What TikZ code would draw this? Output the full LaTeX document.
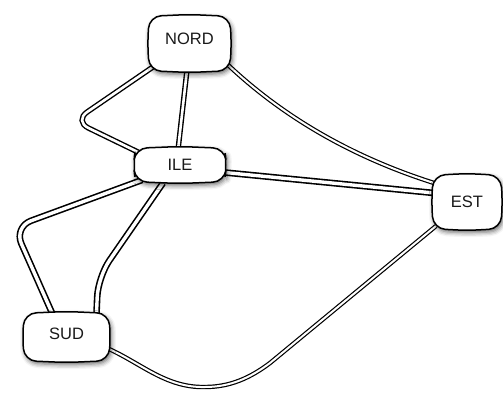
\documentclass[tikz,border=0pt]{standalone}
\usepackage{fontspec}
\setmainfont{Liberation Sans}
\usetikzlibrary{calc,shadows.blur}
\pgfdeclarelayer{edges}
\pgfdeclarelayer{boxes}
\pgfsetlayers{edges,boxes,main}
\tikzset{
  island/.style={inner sep=0pt, draw=none},
  islandtext/.style={inner sep=0pt, text=black!90, font=\fontsize{16.5}{18}\selectfont},
  boxline/.style={draw=black, line width=1.5pt, fill=white, rounded corners=12pt,
    blur shadow={shadow xshift=1.5pt, shadow yshift=-2.5pt, shadow blur radius=4.5pt, shadow opacity=60}},
  bridge/.style={draw=black, line width=1.6pt, double=white, double distance=3.4pt},
  midbridge/.style={draw=black, line width=1.4pt, double=white, double distance=2.6pt},
  thinbridge/.style={draw=black, line width=1.2pt, double=white, double distance=2pt},
}
% outline of an island: a rounded box whose sides bulge slightly outwards
\newcommand\islandoutline[1]{%
  \begin{pgfonlayer}{boxes}
  \path[boxline] ($(#1.north)+(0,-1.8)$) -- (#1.north east) -- ($(#1.east)+(1.8,0)$)
    -- (#1.south east) -- ($(#1.south)+(0,1.8)$) -- (#1.south west)
    -- ($(#1.west)+(-1.8,0)$) -- (#1.north west) -- cycle;
  \end{pgfonlayer}}
\begin{document}
\begin{tikzpicture}[x=1pt,y=-1pt]
\useasboundingbox (0,0) rectangle (503,392);

\node[island, minimum width=80pt, minimum height=54pt,
      label={[islandtext, yshift=5pt]center:NORD}] (NORD) at (189.5,43.5) {};
\node[island, minimum width=89pt, minimum height=33pt,
      label={[islandtext]center:ILE}] (ILE) at (180,165) {};
\node[island, minimum width=84pt, minimum height=47pt,
      label={[islandtext, yshift=3pt]center:SUD}] (SUD) at (66.5,337) {};
\node[island, minimum width=67pt, minimum height=53pt,
      label={[islandtext]center:EST}] (EST) at (467,202) {};

\islandoutline{NORD}
\islandoutline{ILE}
\islandoutline{SUD}
\islandoutline{EST}

\begin{pgfonlayer}{edges}
% the seven bridges
\draw[midbridge, rounded corners=16pt] ($(NORD)+(-33,21)$) -- (74,121) -- ($(ILE)+(-38,-11)$);
\draw[midbridge] ($(NORD)+(-2,22)$) -- ($(ILE)+(-2,-15)$);
\draw[thinbridge] ($(NORD)+(37,20)$) .. controls (265,100) and (330,150) .. ($(EST)+(-33,-19)$);
\draw[bridge] ($(ILE)+(40,7)$) -- ($(EST)+(-33,-9)$);
\draw[bridge, rounded corners=18pt] ($(ILE)+(-38,15)$) -- (14,227) -- ($(SUD)+(-14,-23)$);
\draw[bridge, rounded corners=20pt] ($(ILE)+(-17,18)$) -- (98,277) -- ($(SUD)+(30,-23)$);
\draw[thinbridge] ($(SUD)+(38,10)$) .. controls (140,362) and (165,388) .. (205,387)
  .. controls (230,387) and (250,378) .. (270,363) -- ($(EST)+(-31,24)$);
\end{pgfonlayer}
\end{tikzpicture}
\end{document}
